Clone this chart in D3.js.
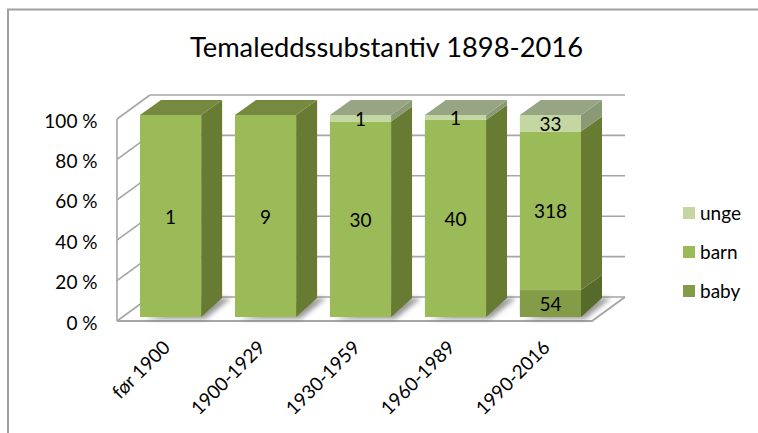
<!DOCTYPE html>
<html>
<head>
<meta charset="utf-8">
<script src="https://cdnjs.cloudflare.com/ajax/libs/d3/7.8.5/d3.min.js"></script>
<style>
  html, body { margin: 0; padding: 0; background: #fff; overflow: hidden; }
  svg { display: block; font-family: Lato, "Open Sans", sans-serif; }
  text { fill: #000; }
</style>
</head>
<body>
<svg id="chart" width="758" height="433"></svg>
<script>
const categories = ["før 1900", "1900-1929", "1930-1959", "1960-1989", "1990-2016"];
const seriesNames = ["baby", "barn", "unge"];
const baby = [0, 0, 0, 0, 54];
const barn = [1, 9, 30, 40, 318];
const unge = [0, 0, 1, 1, 33];
const yTicks = [0, 0.2, 0.4, 0.6, 0.8, 1];

const colors = {
  baby: { front: "#849c48", side: "#566a2b", top: "#76893f" },
  barn: { front: "#9bbb59", side: "#677b33", top: "#76893f" },
  unge: { front: "#c4d6a2", side: "#8a9a74", top: "#98a585" }
};

const svg = d3.select("#chart");
const rows = categories.map((c, i) => ({ cat: c, baby: baby[i], barn: barn[i], unge: unge[i] }));
const stacked = d3.stack().keys(seriesNames).offset(d3.stackOffsetExpand)(rows);

const x = d3.scaleBand().domain(categories).range([140, 581]).paddingInner(0.356);
const y = d3.scaleLinear().domain([0, 1]).range([317, 115]);      // bars
const yWall = d3.scaleLinear().domain([0, 1]).range([321, 119]);  // front edge of the side wall

// depth of the fake 3d box
const wallDx = 33, wallDy = 24;
const barDx = 21, barDy = 15, barDyFloor = 19;

const pts = a => a.map(p => p.join(",")).join(" ");

const defs = svg.append("defs");
defs.append("filter").attr("id", "blur")
  .attr("x", "-50%").attr("y", "-50%").attr("width", "200%").attr("height", "200%")
  .append("feGaussianBlur").attr("stdDeviation", 2.5);

// Outer frame
svg.append("path")
  .attr("d", "M8,433V9.5H758")
  .attr("fill", "none").attr("stroke", "#a0a0a0").attr("stroke-width", 2);

// Title
svg.append("text")
  .attr("x", 386.5).attr("y", 57)
  .attr("text-anchor", "middle")
  .attr("font-size", 27.3)
  .text("Temaleddssubstantiv 1898-2016");

// Walls and gridlines
const wallLeft = 117;
const floorRight = 592;
const grid = svg.append("g").attr("fill", "none").attr("stroke", "#a6a6a6").attr("stroke-width", 1.6);

grid.selectAll("line.back")
  .data(yTicks)
  .enter()
  .append("line")
  .attr("class", "back")
  .attr("x1", wallLeft + wallDx).attr("x2", floorRight + wallDx)
  .attr("y1", d => yWall(d) - wallDy).attr("y2", d => yWall(d) - wallDy);

grid.selectAll("line.side")
  .data(yTicks)
  .enter()
  .append("line")
  .attr("class", "side")
  .attr("x1", wallLeft).attr("x2", wallLeft + wallDx)
  .attr("y1", d => yWall(d)).attr("y2", d => yWall(d) - wallDy);

grid.append("line")
  .attr("x1", wallLeft).attr("x2", wallLeft)
  .attr("y1", yWall(0)).attr("y2", yWall(1));

grid.append("polyline")
  .attr("points", pts([
    [wallLeft, yWall(0)],
    [floorRight, yWall(0)],
    [floorRight + wallDx, yWall(0) - wallDy]
  ]))
  .attr("stroke-width", 2);

// Shadows on the floor
svg.append("g").selectAll("polygon")
  .data(categories)
  .enter()
  .append("polygon")
  .attr("points", d => {
    const r = x(d) + x.bandwidth();
    return pts([
      [x(d) + 4, y(0) + 2],
      [r + 4, y(0) + 2],
      [r + barDx + 9, y(0) - barDyFloor],
      [r + barDx, y(0) - barDyFloor]
    ]);
  })
  .attr("fill", "#555")
  .attr("opacity", 0.6)
  .attr("filter", "url(#blur)");

// Bars
const bars = svg.append("g");
categories.forEach((cat, i) => {
  const g = bars.append("g");
  const left = x(cat);
  const right = left + x.bandwidth();

  stacked.forEach(layer => {
    const [v0, v1] = layer[i];
    if (v1 - v0 <= 0) return;
    const c = colors[layer.key];
    const dyBottom = v0 === 0 ? barDyFloor : barDy;

    g.append("polygon")
      .attr("points", pts([
        [right, y(v0)],
        [right + barDx, y(v0) - dyBottom],
        [right + barDx, y(v1) - barDy],
        [right, y(v1)]
      ]))
      .attr("fill", c.side);

    g.append("rect")
      .attr("x", left).attr("y", y(v1))
      .attr("width", x.bandwidth())
      .attr("height", y(v0) - y(v1))
      .attr("fill", c.front);

    if (v1 >= 1) {
      g.append("polygon")
        .attr("points", pts([
          [left, y(1)],
          [right, y(1)],
          [right + barDx, y(1) - barDy],
          [left + barDx, y(1) - barDy]
        ]))
        .attr("fill", c.top);
    }
  });
});

// Value labels
stacked.forEach(layer => {
  svg.append("g").selectAll("text")
    .data(layer.filter(d => d[1] - d[0] > 0))
    .enter()
    .append("text")
    .attr("x", d => x(d.data.cat) + x.bandwidth() / 2)
    .attr("y", d => y((d[0] + d[1]) / 2) + 1)
    .attr("dy", "0.35em")
    .attr("text-anchor", "middle")
    .attr("font-size", 19)
    .text(d => d.data[layer.key]);
});

// Y axis
const yAxis = svg.append("g")
  .attr("transform", "translate(97.5,2)")
  .call(d3.axisLeft(yWall).tickValues(yTicks).tickSize(0).tickPadding(0)
    .tickFormat(d => Math.round(d * 100) + " %"));
yAxis.attr("font-family", null).attr("font-size", null);
yAxis.select(".domain").remove();
yAxis.selectAll("text").attr("font-size", 19).attr("fill", "#000");

// X axis
const xAxis = svg.append("g")
  .attr("transform", "translate(0,321)")
  .call(d3.axisBottom(x).tickSize(0).tickPadding(0));
xAxis.attr("font-family", null).attr("font-size", null);
xAxis.select(".domain").remove();
xAxis.selectAll("text")
  .attr("font-size", 19).attr("fill", "#000")
  .attr("text-anchor", "end")
  .attr("dy", "0.35em")
  .attr("transform", "translate(-4,23) rotate(-45)");

// Legend
const legendY = d3.scalePoint().domain(["unge", "barn", "baby"]).range([213, 291]);
const legend = svg.append("g").selectAll("g")
  .data(legendY.domain())
  .enter()
  .append("g")
  .attr("transform", d => `translate(683,${legendY(d)})`);
legend.append("rect")
  .attr("y", -6).attr("width", 12).attr("height", 12)
  .attr("fill", d => colors[d].front);
legend.append("text")
  .attr("x", 17).attr("dy", "0.35em")
  .attr("font-size", 19)
  .text(d => d);
</script>
</body>
</html>
